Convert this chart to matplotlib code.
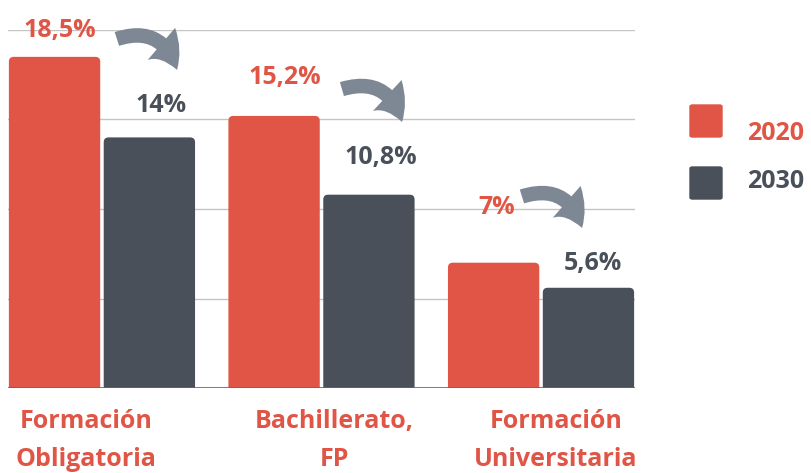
import numpy as np
import matplotlib.pyplot as plt
from matplotlib.patches import FancyArrowPatch, FancyBboxPatch

# Datos
categorias = ['Formación\nObligatoria', 'Bachillerato,\nFP', 'Formación\nUniversitaria']
valores_2020 = [18.5, 15.2, 7.0]
valores_2030 = [14.0, 10.8, 5.6]
etiquetas_2020 = ['18,5%', '15,2%', '7%']
etiquetas_2030 = ['14%', '10,8%', '5,6%']
series = ['2020', '2030']

ROJO = '#E05545'
GRIS = '#4A5059'
FLECHA = '#7E8895'

plt.rcParams['font.family'] = ['Open Sans', 'DejaVu Sans']
plt.rcParams['font.weight'] = 'bold'

fig = plt.figure(figsize=(8.12, 4.73), dpi=100)
ax = fig.add_axes([8/812, 85/473, 627/812, 358/473])

x = np.arange(len(categorias))
ancho = 0.424
desp = 0.216

b1 = ax.bar(x - desp, valores_2020, ancho, color=ROJO, zorder=3)
b2 = ax.bar(x + desp, valores_2030, ancho, color=GRIS, zorder=3)

# esquinas redondeadas
aspecto = (358 / 20) / (627 / 2.856)
for barras in (b1, b2):
    for r in barras:
        bx, by = r.get_x(), r.get_y()
        w, h = r.get_width(), r.get_height()
        r.set_visible(False)
        p = FancyBboxPatch((bx + 0.004, by - 0.6), w - 0.008, h + 0.6,
                           boxstyle='round,pad=0,rounding_size=0.022',
                           mutation_aspect=1 / aspecto,
                           facecolor=r.get_facecolor(), edgecolor='none', zorder=3)
        ax.add_patch(p)

ax.set_xlim(-0.428, 2.428)
ax.set_ylim(0, 20)
ax.set_yticks([5, 10, 15, 20])
ax.grid(axis='y', color='#c4c4c4', linewidth=1, zorder=0)
ax.axhline(0, color='#666666', linewidth=1.2, zorder=4)
ax.tick_params(left=False, bottom=False, labelleft=False, labelbottom=False)
for s in ax.spines.values():
    s.set_visible(False)

# posiciones de etiquetas (desplazamiento x respecto al centro del grupo, y en datos)
pos_2020 = [(-0.19, 20.0), (-0.167, 17.37), (-0.2, 10.06)]
pos_2030 = [(0.268, 15.8), (0.27, 12.85), (0.236, 6.98)]
for i in range(len(categorias)):
    ax.text(x[i] + pos_2020[i][0], pos_2020[i][1], etiquetas_2020[i], color=ROJO,
            fontsize=18, ha='center', va='center', zorder=5)
    ax.text(x[i] + pos_2030[i][0], pos_2030[i][1], etiquetas_2030[i], color=GRIS,
            fontsize=18, ha='center', va='center', zorder=5)

# flechas curvas (inicio y fin respecto al centro del grupo)
flechas = [((0.068, 19.5), (0.342, 17.77)),
           ((0.093, 16.7), (0.367, 14.86)),
           ((-0.087, 10.7), (0.187, 8.94))]
for i, (ini, fin) in enumerate(flechas):
    a = FancyArrowPatch((x[i] + ini[0], ini[1]), (x[i] + fin[0], fin[1]),
                        connectionstyle='arc3,rad=-0.5',
                        arrowstyle='simple,head_width=1.6,head_length=1.15,tail_width=0.55',
                        mutation_scale=19, color=FLECHA, zorder=6, lw=0,
                        shrinkA=0, shrinkB=0, clip_on=False)
    ax.add_patch(a)

# etiquetas de categoria
pos_cat = [-0.073, 0.057, 0.068]
for i, c in enumerate(categorias):
    ax.text(x[i] + pos_cat[i], -1.2, c, color=ROJO, fontsize=18, ha='center', va='top',
            linespacing=1.65)

# leyenda manual
fig.patches.append(FancyBboxPatch((690/812, (473-137)/473), 32/812, 32/473,
                                  boxstyle='round,pad=0,rounding_size=0.003',
                                  transform=fig.transFigure, color=ROJO))
fig.patches.append(FancyBboxPatch((690/812, (473-199)/473), 32/812, 32/473,
                                  boxstyle='round,pad=0,rounding_size=0.003',
                                  transform=fig.transFigure, color=GRIS))
fig.text(747/812, (473-133)/473, series[0], color=ROJO, fontsize=18, va='center', ha='left')
fig.text(747/812, (473-181)/473, series[1], color=GRIS, fontsize=18, va='center', ha='left')

fig.savefig('out.png', dpi=100)
